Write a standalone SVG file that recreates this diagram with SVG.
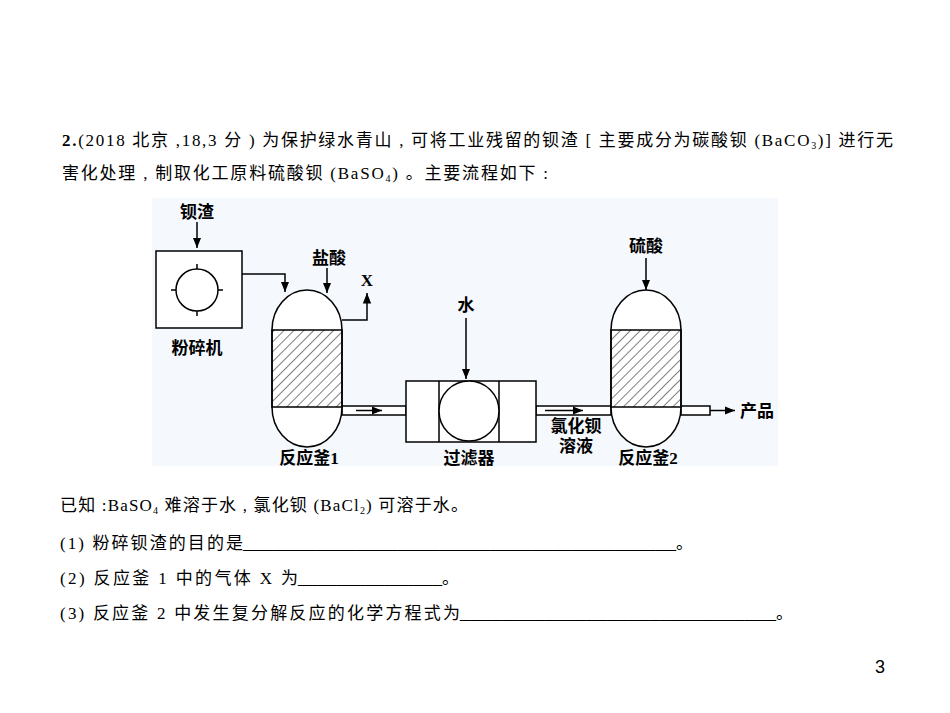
<svg xmlns="http://www.w3.org/2000/svg" width="950" height="713" viewBox="0 0 950 713">
<style>
.t{font-family:"Liberation Serif","Noto Sans CJK SC",serif;font-size:17px;fill:#000}
.d{font-family:"Liberation Serif","Noto Sans CJK SC",serif;font-size:17px;font-weight:bold;fill:#000;text-anchor:middle}
.s{font-size:10px}
.ln{fill:none;stroke:#000;stroke-width:1.5}
.sh{fill:#fff;stroke:#000;stroke-width:1.5}
</style>
<defs>
<marker id="ah" viewBox="0 0 10 10" refX="10" refY="5" markerWidth="7" markerHeight="7" orient="auto"><path d="M0,1 L10,5 L0,9 Z" fill="#000"/></marker>
<pattern id="hatch" width="7" height="7" patternUnits="userSpaceOnUse" patternTransform="rotate(45)"><line x1="0" y1="0" x2="0" y2="7" stroke="#000" stroke-width="1"/></pattern>
</defs>
<rect width="950" height="713" fill="#fff"/>
<text class="t" x="62" y="146" textLength="831" lengthAdjust="spacing"><tspan font-weight="bold">2.</tspan>(2018 北京 ,18,3 分 ) 为保护绿水青山 , 可将工业残留的钡渣 [ 主要成分为碳酸钡 (BaCO<tspan class="s" dy="3">3</tspan><tspan dy="-3">)] 进行无</tspan></text>
<text class="t" x="62" y="179" textLength="486" lengthAdjust="spacing">害化处理 , 制取化工原料硫酸钡 (BaSO<tspan class="s" dy="3">4</tspan><tspan dy="-3">) 。主要流程如下 :</tspan></text>
<rect x="152" y="198" width="626" height="268" fill="#f5f8fc"/>
<g id="connectors">
<line class="ln" x1="197" y1="222" x2="197" y2="248" marker-end="url(#ah)"/>
<polyline class="ln" points="242,274 285,274 285,292" marker-end="url(#ah)"/>
<line class="ln" x1="327" y1="268" x2="327" y2="293" marker-end="url(#ah)"/>
<polyline class="ln" points="342,320 367,320 367,293" marker-end="url(#ah)"/>
<rect class="sh" x="342" y="406" width="64" height="9"/>
<line class="ln" x1="356" y1="410.5" x2="382" y2="410.5" stroke-width="1" marker-end="url(#ah)"/>
<line class="ln" x1="466" y1="318" x2="466" y2="379" marker-end="url(#ah)"/>
<rect class="sh" x="536" y="406" width="75" height="9"/>
<line class="ln" x1="545" y1="410.5" x2="583" y2="410.5" stroke-width="1" marker-end="url(#ah)"/>
<line class="ln" x1="646" y1="258" x2="646" y2="290" marker-end="url(#ah)"/>
<rect class="sh" x="681" y="406" width="29" height="9"/>
<line class="ln" x1="710" y1="410.5" x2="735" y2="410.5" marker-end="url(#ah)"/>
</g>
<g id="crusher">
<rect class="sh" x="156" y="251" width="86" height="77"/>
<circle class="sh" cx="197" cy="290" r="21"/>
<path class="ln" d="M197,264V269M197,311V316M171,290H176M218,290H223"/>
<text class="d" x="197" y="218">钡渣</text>
<text class="d" x="197" y="354">粉碎机</text>
</g>
<g id="reactor1">
<path class="sh" d="M272,330 A35,40 0 0 1 342,330 V407 A35,40 0 0 1 272,407 Z"/>
<rect x="272" y="330" width="70" height="77" fill="url(#hatch)" stroke="#000" stroke-width="1.5"/>
<text class="d" x="329" y="264">盐酸</text>
<text class="d" x="367" y="286">X</text>
<text class="d" x="309" y="464" font-weight="normal">反应釜1</text>
</g>
<g id="filter">
<rect class="sh" x="406" y="381" width="130" height="61"/>
<line class="ln" x1="439" y1="381" x2="439" y2="442"/>
<line class="ln" x1="499" y1="381" x2="499" y2="442"/>
<circle class="sh" cx="469" cy="411" r="30"/>
<text class="d" x="466" y="311">水</text>
<text class="d" x="469" y="464">过滤器</text>
</g>
<g id="reactor2">
<path class="sh" d="M611,330 A35,40 0 0 1 681,330 V407 A35,40 0 0 1 611,407 Z"/>
<rect x="611" y="330" width="70" height="77" fill="url(#hatch)" stroke="#000" stroke-width="1.5"/>
<text class="d" x="646" y="252">硫酸</text>
<text class="d" x="648" y="464" font-weight="normal">反应釜2</text>
</g>
<g id="labels">
<text class="d" x="576" y="432" font-size="15">氯化钡</text>
<text class="d" x="576" y="452" font-size="15">溶液</text>
<text class="d" x="757" y="417" font-weight="normal">产品</text>
</g>
<text class="t" x="60" y="511" textLength="408" lengthAdjust="spacing">已知 :BaSO<tspan class="s" dy="3">4</tspan><tspan dy="-3"> 难溶于水 , 氯化钡 (BaCl</tspan><tspan class="s" dy="3">2</tspan><tspan dy="-3">) 可溶于水。</tspan></text>
<text class="t" x="60" y="549" textLength="183" lengthAdjust="spacing">(1) 粉碎钡渣的目的是</text>
<text class="t" x="243" y="549" textLength="433" lengthAdjust="spacingAndGlyphs">__________________________________________</text>
<text class="t" x="676" y="549">。</text>
<text class="t" x="60" y="584" textLength="238" lengthAdjust="spacing">(2) 反应釜 1 中的气体 X 为</text>
<text class="t" x="298" y="584" textLength="144" lengthAdjust="spacingAndGlyphs">_______________</text>
<text class="t" x="442" y="584">。</text>
<text class="t" x="60" y="619" textLength="400" lengthAdjust="spacing">(3) 反应釜 2 中发生复分解反应的化学方程式为</text>
<text class="t" x="460" y="619" textLength="316" lengthAdjust="spacingAndGlyphs">______________________________</text>
<text class="t" x="776" y="619">。</text>
<text x="880" y="673" font-family="Liberation Sans,sans-serif" font-size="18" text-anchor="middle">3</text>
</svg>
